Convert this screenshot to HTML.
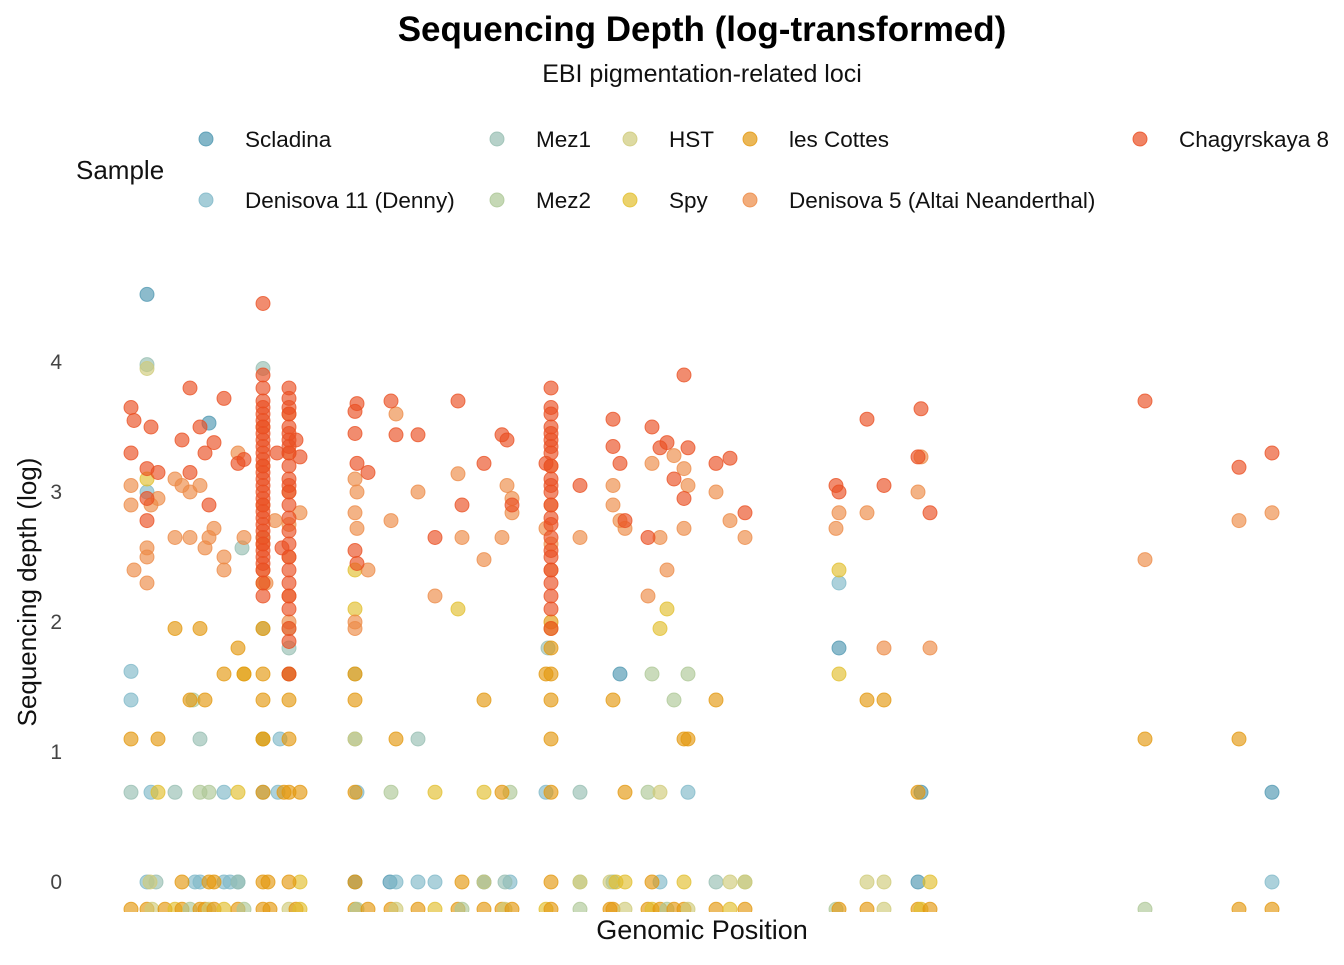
<!DOCTYPE html>
<html><head><meta charset="utf-8"><style>
body{margin:0;background:#fff;font-family:"Liberation Sans",sans-serif}
svg text{font-family:"Liberation Sans",sans-serif}
</style></head><body>
<svg id="c" width="1344" height="960">
<text x="702" y="41" text-anchor="middle" font-size="35" font-weight="bold" fill="#000">Sequencing Depth (log-transformed)</text>
<text x="702" y="82" text-anchor="middle" font-size="25" fill="#111">EBI pigmentation-related loci</text>
<text x="76" y="179" font-size="26" fill="#111">Sample</text>
<text x="702" y="939" text-anchor="middle" font-size="27" fill="#111">Genomic Position</text>
<text transform="translate(36,592) rotate(-90)" text-anchor="middle" font-size="26" fill="#111">Sequencing depth (log)</text>
<g id="legend"></g>
<g id="yaxis"></g>
<defs><clipPath id="clip"><rect x="100" y="250" width="1244" height="662"/></clipPath></defs>
<g id="plot" clip-path="url(#clip)"></g>
</svg>
<script>
const sampleNames=["Scladina","Denisova 11 (Denny)","Mez1","Mez2","HST","Spy","les Cottes","Denisova 5 (Altai Neanderthal)","Chagyrskaya 8"];
const sampleColors=["#4f97b0","#7fb8c8","#97beb2","#adc796","#cfcb7a","#e2bf2e","#e3980f","#ec8a45","#ea4f22"];
const yTicks=[0,1,2,3,4];
const bottomVal=-0.21;
const bottomPos=[131,147,152,165,175,182,190,200,205,209,214,224,238,244,263,270,289,296,300,355,357,368,391,396,418,435,458,462,484,502,505,512,546,551,580,610,613,625,648,652,660,667,674,684,688,716,730,745,836,839,867,884,918,921,930,1145,1239,1272];
const scladina=[[147,4.52],[209,3.53],[839,1.8],[620,1.6],[1272,0.69],[918,0],[484,0],[355,0],[921,0.69],[390,0]];
const denisova11=[[131,1.62],[131,1.4],[147,3.0],[151,0.69],[839,2.3],[224,0.69],[263,0.69],[280,1.1],[278,0.69],[357,0.69],[396,0],[418,0],[435,0],[510,0],[546,0.69],[688,0.69],[1272,0],[147,0],[200,0],[224,0],[238,0],[355,1.1],[613,0],[660,0],[263,1.1],[195,0],[230,0]];
const mez1=[[147,3.98],[263,3.95],[242,2.57],[548,1.8],[580,0.69],[418,1.1],[200,1.1],[131,0.69],[175,0.69],[289,1.8],[716,0],[238,0],[156,0],[505,0]];
const mez2=[[263,1.95],[289,1.6],[355,1.6],[688,1.6],[674,1.4],[652,1.6],[193,1.4],[209,0.69],[391,0.69],[510,0.69],[648,0.69],[580,0],[745,0],[200,0.69]];
const hst=[[147,3.95],[263,2.65],[289,1.95],[355,1.1],[484,0],[660,0.69],[580,0],[730,0],[745,0],[867,0],[884,0],[150,0],[610,0]];
const spy=[[147,3.1],[263,2.3],[263,1.1],[355,2.4],[355,2.1],[458,2.1],[551,1.95],[667,2.1],[660,1.95],[839,2.4],[839,1.6],[435,0.69],[484,0.69],[684,0],[930,0],[300,0],[158,0.69],[238,0.69],[616,0],[625,0],[244,1.6]];
const lesCottes=[[131,1.1],[158,1.1],[175,1.95],[190,1.4],[200,1.95],[205,1.4],[224,1.6],[238,1.8],[244,1.6],[263,1.95],[263,1.6],[263,1.4],[263,1.1],[263,0.69],[263,0],[289,1.6],[289,1.4],[289,1.1],[289,0.69],[289,0],[300,0.69],[355,1.6],[355,1.4],[355,0.69],[355,0],[396,1.1],[462,0],[484,1.4],[502,0.69],[546,1.6],[551,1.6],[551,1.4],[551,1.1],[551,0.69],[551,0],[551,1.8],[551,2.0],[613,1.4],[652,0],[625,0.69],[684,1.1],[688,1.1],[716,1.4],[867,1.4],[884,1.4],[918,0.69],[1145,1.1],[1239,1.1],[182,0],[209,0],[214,0],[268,0],[284,0.69]];
const denisova5=[[131,3.05],[131,2.9],[134,2.4],[147,2.57],[147,2.5],[147,2.3],[151,2.9],[158,2.95],[175,3.1],[175,2.65],[182,3.05],[190,3.0],[190,2.65],[200,3.05],[205,2.57],[209,2.65],[214,2.72],[224,2.5],[224,2.4],[238,3.3],[244,2.65],[263,3.5],[263,3.2],[263,2.9],[263,2.6],[263,2.4],[266,2.3],[275,2.78],[289,3.6],[289,3.3],[289,3.0],[289,2.75],[289,2.5],[289,2.2],[289,2.0],[300,2.84],[355,3.1],[355,2.84],[357,3.0],[357,2.72],[355,2.0],[355,1.95],[368,2.4],[391,2.78],[396,3.6],[418,3.0],[435,2.2],[458,3.14],[462,2.65],[484,2.48],[502,2.65],[507,3.05],[512,2.84],[512,2.95],[546,2.72],[551,3.2],[551,2.9],[551,2.6],[551,2.4],[580,2.65],[613,3.05],[613,2.9],[620,2.78],[625,2.72],[648,2.2],[652,3.22],[660,2.65],[667,2.4],[674,3.28],[684,3.18],[684,2.72],[688,3.05],[716,3.0],[730,2.78],[745,2.65],[836,2.72],[839,2.84],[867,2.84],[884,1.8],[918,3.0],[921,3.27],[930,1.8],[1145,2.48],[1239,2.78],[1272,2.84]];
const chag=[[131,3.65],[134,3.55],[131,3.3],[147,3.18],[147,2.95],[147,2.78],[151,3.5],[158,3.15],[182,3.4],[190,3.8],[190,3.15],[200,3.5],[205,3.3],[209,2.9],[214,3.38],[224,3.72],[238,3.22],[244,3.25],
[263,4.45],[263,3.9],[263,3.8],[263,3.7],[263,3.65],[263,3.6],[263,3.55],[263,3.5],[263,3.45],[263,3.4],[263,3.35],[263,3.3],[263,3.25],[263,3.2],[263,3.15],[263,3.1],[263,3.05],[263,3.0],[263,2.95],[263,2.9],[263,2.85],[263,2.8],[263,2.75],[263,2.7],[263,2.65],[263,2.6],[263,2.55],[263,2.5],[263,2.45],[263,2.4],[263,2.3],[263,2.2],
[289,3.8],[289,3.72],[289,3.65],[289,3.6],[289,3.5],[289,3.45],[289,3.4],[289,3.35],[289,3.3],[289,3.2],[289,3.1],[289,3.05],[289,3.0],[289,2.9],[289,2.8],[289,2.7],[289,2.6],[289,2.5],[289,2.4],[289,2.3],[289,2.2],[289,2.1],[289,1.95],[289,1.85],[289,1.6],[277,3.3],[282,2.57],
[296,3.4],[300,3.27],[355,3.62],[357,3.68],[355,3.45],[357,3.22],[355,2.55],[357,2.45],[368,3.15],[391,3.7],[396,3.44],[418,3.44],[435,2.65],[458,3.7],[462,2.9],[484,3.22],[502,3.44],[507,3.4],[512,2.9],[546,3.22],
[551,3.8],[551,3.65],[551,3.6],[551,3.5],[551,3.45],[551,3.4],[551,3.35],[551,3.3],[551,3.2],[551,3.1],[551,3.05],[551,3.0],[551,2.9],[551,2.8],[551,2.75],[551,2.65],[551,2.55],[551,2.5],[551,2.4],[551,2.3],[551,2.2],[551,2.1],[551,1.95],
[580,3.05],[613,3.56],[613,3.35],[620,3.22],[625,2.78],[648,2.65],[652,3.5],[660,3.34],[667,3.38],[674,3.1],[684,3.9],[684,2.95],[688,3.34],[716,3.22],[730,3.26],[745,2.84],[836,3.05],[839,3.0],[867,3.56],[884,3.05],[918,3.27],[921,3.64],[930,2.84],[1145,3.7],[1239,3.19],[1272,3.3]];
const allSeries=[scladina,denisova11,mez1,mez2,hst,spy,lesCottes,denisova5,chag];
const NS="http://www.w3.org/2000/svg";
const xScale=p=>131+(p-131)*(1272-131)/(1272-131);
const yScale=v=>882-v*130;
function mk(tag,attrs,parent){const e=document.createElementNS(NS,tag);for(const k in attrs)e.setAttribute(k,attrs[k]);parent.appendChild(e);return e;}
const ya=document.getElementById('yaxis');
yTicks.forEach(t=>{const e=mk('text',{x:62,y:yScale(t)+7,'text-anchor':'end','font-size':21,fill:'#444'},ya);e.textContent=t;

});
const lg=document.getElementById('legend');
const lpos=[[206,139],[206,200],[497,139],[497,200],[630,139],[630,200],[750,139],[750,200],[1140,139]];
sampleNames.forEach((n,i)=>{const [x,y]=lpos[i];
const c=mk('circle',{cx:x,cy:y,r:7,fill:sampleColors[i],'fill-opacity':0.7,stroke:sampleColors[i],'stroke-opacity':0.8},lg);


const t=mk('text',{x:x+39,y:y+8,'font-size':22.5,fill:'#111'},lg);t.textContent=n;

});
const pl=document.getElementById('plot');
function dot(p,v,i){const c=mk('circle',{cx:xScale(p),cy:yScale(v),r:7,fill:sampleColors[i],'fill-opacity':0.65,stroke:sampleColors[i],'stroke-opacity':0.75},pl);

}
bottomPos.forEach((p,k)=>dot(p,bottomVal,[6,6,4,6,5,6,3][k%7]));
allSeries.forEach((s,i)=>s.forEach(d=>dot(d[0],d[1],i)));
</script>
</body></html>
